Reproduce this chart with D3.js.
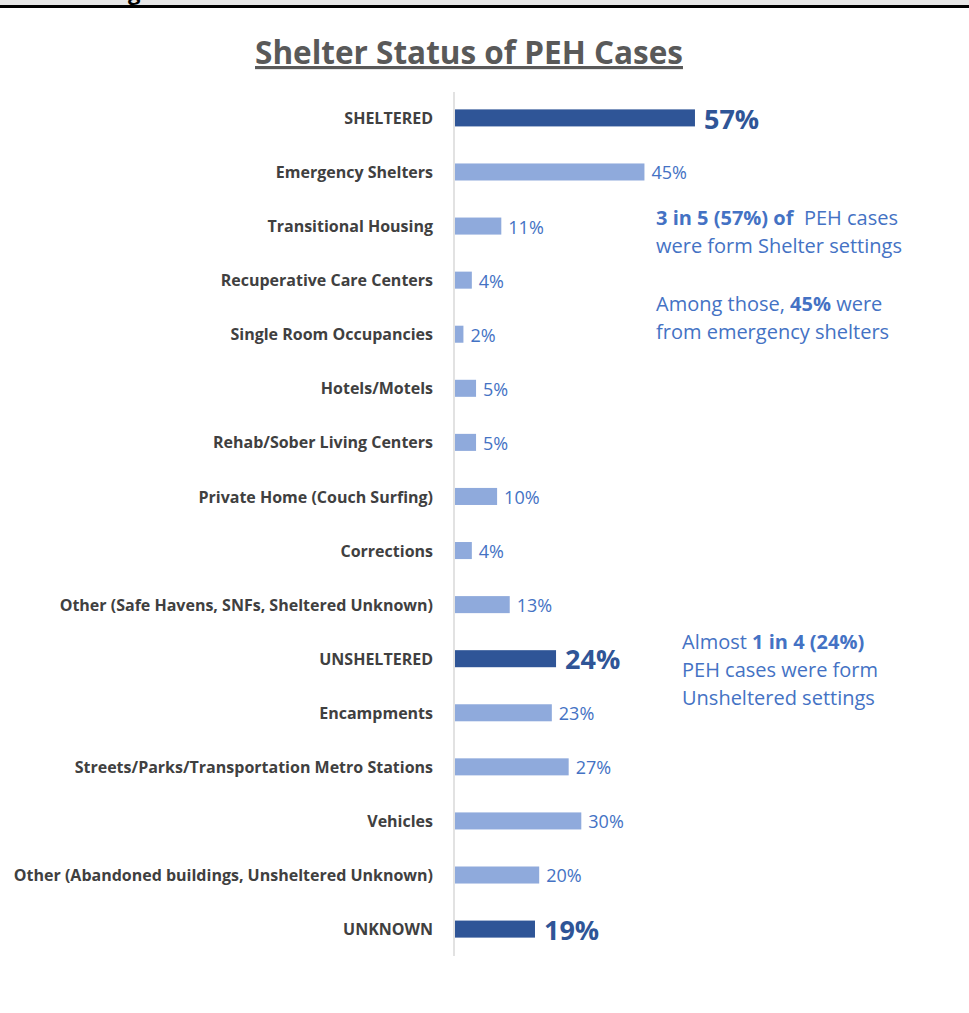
<!DOCTYPE html>
<html>
<head>
<meta charset="utf-8">
<script src="https://cdn.jsdelivr.net/npm/d3@7"></script>
<style>
  html, body { margin: 0; padding: 0; background: #fff; }
  svg { display: block; }
</style>
</head>
<body>
<svg id="chart" width="969" height="1013"></svg>
<script>
// Shelter categories, top to bottom
const categories = [
  "SHELTERED",
  "Emergency Shelters",
  "Transitional Housing",
  "Recuperative Care Centers",
  "Single Room Occupancies",
  "Hotels/Motels",
  "Rehab/Sober Living Centers",
  "Private Home (Couch Surfing)",
  "Corrections",
  "Other (Safe Havens, SNFs, Sheltered Unknown)",
  "UNSHELTERED",
  "Encampments",
  "Streets/Parks/Transportation Metro Stations",
  "Vehicles",
  "Other (Abandoned buildings, Unsheltered Unknown)",
  "UNKNOWN"
];
// Percent of PEH cases
const values = [57, 45, 11, 4, 2, 5, 5, 10, 4, 13, 24, 23, 27, 30, 20, 19];
// Summary rows (drawn dark and bold)
const summaryRows = ["SHELTERED", "UNSHELTERED", "UNKNOWN"];

const svg = d3.select("#chart");
const font = "'Open Sans', 'Noto Sans', sans-serif";

// Header strip at the very top of the page
svg.append("rect").attr("x", 0).attr("y", 0).attr("width", 969).attr("height", 6).attr("fill", "#e6e6e6");
svg.append("text").attr("x", 128).attr("y", 0)
  .attr("font-family", font).attr("font-weight", 700).attr("font-size", 22)
  .attr("fill", "#000").text("g");
svg.append("rect").attr("x", 0).attr("y", 5).attr("width", 969).attr("height", 3).attr("fill", "#000");

// Title
svg.append("text")
  .attr("x", 469).attr("y", 64)
  .attr("text-anchor", "middle")
  .attr("font-family", font)
  .attr("font-weight", 700)
  .attr("font-size", 31.5)
  .attr("fill", "#595959")
  .attr("text-decoration", "underline")
  .text("Shelter Status of PEH Cases");

// Scales
const x0 = 455;
const x = d3.scaleLinear().domain([0, 100]).range([x0, x0 + 421]);
const y = d3.scaleBand().domain(categories).range([91, 956]).paddingInner(0.685).paddingOuter(0.34);

const rows = categories.map((c, i) => ({ c, v: values[i], summary: summaryRows.includes(c) }));

// Bars
svg.append("g").selectAll("rect").data(rows).join("rect")
  .attr("x", x(0))
  .attr("y", d => y(d.c))
  .attr("width", d => x(d.v) - x(0))
  .attr("height", y.bandwidth())
  .attr("fill", d => d.summary ? "#2F5597" : "#8FAADC");

// Vertical category axis line
svg.append("line")
  .attr("x1", 454).attr("x2", 454).attr("y1", 92).attr("y2", 956)
  .attr("stroke", "#d9d9d9").attr("stroke-width", 1.5);

// Category labels
svg.append("g").selectAll("text").data(rows).join("text")
  .attr("x", 433)
  .attr("y", d => y(d.c) + y.bandwidth() / 2 + 0.5)
  .attr("dy", "0.35em")
  .attr("text-anchor", "end")
  .attr("font-family", font)
  .attr("font-weight", 700)
  .attr("font-size", 16)
  .attr("fill", "#404040")
  .text(d => d.c);

// Value labels
svg.append("g").selectAll("text").data(rows).join("text")
  .attr("x", d => x(d.v) + (d.summary ? 9 : 7))
  .attr("y", d => y(d.c) + y.bandwidth() / 2 + 1)
  .attr("dy", "0.36em")
  .attr("font-family", font)
  .attr("font-weight", d => d.summary ? 700 : 400)
  .attr("font-size", d => d.summary ? 27 : 18)
  .attr("fill", d => d.summary ? "#2F5597" : "#4472C4")
  .text(d => d.v + "%");

// Annotations
const noteColor = "#4472C4";
function note(xp, yp, parts) {
  const t = svg.append("text").attr("x", xp).attr("y", yp)
    .attr("font-family", font).attr("font-size", 20).attr("fill", noteColor);
  parts.forEach(p => t.append("tspan").attr("font-weight", p[1] ? 700 : 400).text(p[0]));
}
note(656, 225, [["3 in 5 (57%) of", true], ["\u00a0 PEH cases", false]]);
note(656, 253, [["were form Shelter settings", false]]);
note(656, 311, [["Among those, ", false], ["45%", true], [" were", false]]);
note(656, 339, [["from emergency shelters", false]]);
note(682, 649, [["Almost ", false], ["1 in 4 (24%)", true]]);
note(682, 677, [["PEH cases were form", false]]);
note(682, 705, [["Unsheltered settings", false]]);
</script>
</body>
</html>
